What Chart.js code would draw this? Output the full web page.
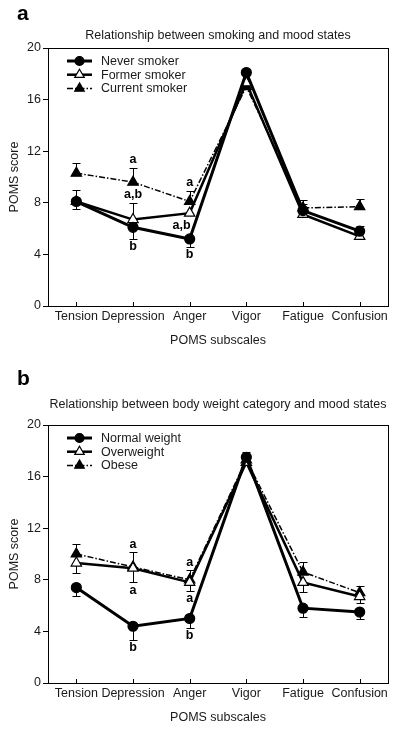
<!DOCTYPE html>
<html>
<head>
<meta charset="utf-8">
<script src="https://cdn.jsdelivr.net/npm/chart.js@4"></script>
<style>
body { margin: 0; background: #fff; }
.panel { position: absolute; left: 0; width: 400px; }
#panel-a { top: 0; }
#panel-b { top: 366px; }
</style>
</head>
<body>
<div class="panel" id="panel-a"><canvas id="grafico-a" width="400" height="366"></canvas></div>
<div class="panel" id="panel-b"><canvas id="grafico-b" width="400" height="367"></canvas></div>

<script>
// dados
const categories = ['Tension', 'Depression', 'Anger', 'Vigor', 'Fatigue', 'Confusion'];
const yTicks = [0, 4, 8, 12, 16, 20];

// painel a - tabagismo
const neverSmoker   = [8.1, 6.1, 5.2, 18.1, 7.4, 5.8];
const formerSmoker  = [8.1, 6.7, 7.2, 17.3, 7.1, 5.4];
const currentSmoker = [10.3, 9.6, 8.1, 17.0, 7.6, 7.7];
// fim da barra de erro (unilateral), null = sem barra
const neverSmokerErr   = [7.5, 5.2, 4.6, null, 7.9, 6.2];
const formerSmokerErr  = [9.0, 8.0, null, null, null, null];
const currentSmokerErr = [11.1, 10.7, 8.95, null, 8.2, 8.3];
// letras: [categoria, serie, texto, lado se sem barra]
const smokingLetters = [[1, 2, 'a'], [1, 1, 'a,b'], [1, 0, 'b'], [2, 2, 'a'], [2, 1, 'a,b', -1], [2, 0, 'b']];

// painel b - peso corporal
const normalWeight = [7.4, 4.4, 5.0, 17.5, 5.8, 5.5];
const overweight   = [9.3, 8.9, 7.8, 17.1, 7.8, 6.7];
const obese        = [10.0, 9.0, 8.0, 17.3, 8.6, 7.0];
const normalWeightErr = [6.75, 3.35, 4.3, 17.9, 5.15, 5.0];
const overweightErr   = [8.55, 7.8, 7.15, null, 7.05, 6.2];
const obeseErr        = [10.8, 10.15, 8.75, null, 9.4, 7.55];
const weightLetters = [[1, 2, 'a'], [1, 1, 'a'], [1, 0, 'b'], [2, 2, 'a'], [2, 1, 'a'], [2, 0, 'b']];

const FONT = '"Liberation Sans", Arial, Helvetica, sans-serif';
Chart.defaults.font.family = FONT;
Chart.defaults.color = '#1a1a1a';

function marker(ctx, style, r, cx, cy, fill) {
    ctx.beginPath();
    if (style === 'circle') {
        ctx.arc(cx, cy, r, 0, Math.PI * 2);
    } else {
        let rad = 0;
        ctx.moveTo(cx + Math.sin(rad) * r, cy - Math.cos(rad) * r);
        rad += Math.PI * 2 / 3;
        ctx.lineTo(cx + Math.sin(rad) * r, cy - Math.cos(rad) * r);
        rad += Math.PI * 2 / 3;
        ctx.lineTo(cx + Math.sin(rad) * r, cy - Math.cos(rad) * r);
        ctx.closePath();
    }
    ctx.fillStyle = fill;
    ctx.fill();
    ctx.lineWidth = 1.2;
    ctx.strokeStyle = '#000';
    ctx.stroke();
}

const decor = {
    id: 'decor',
    beforeDatasetsDraw(chart, args, opts) {
        const { ctx, scales: { x, y } } = chart;
        ctx.save();
        ctx.strokeStyle = '#000';
        ctx.lineWidth = 1;
        opts.errs.forEach((err, s) => {
            err.forEach((e, i) => {
                if (e == null) return;
                const px = Math.round(x.getPixelForValue(i)) + 0.5;
                const y0 = y.getPixelForValue(chart.data.datasets[s].data[i]);
                const y1 = Math.round(y.getPixelForValue(e)) + 0.5;
                ctx.beginPath();
                ctx.moveTo(px, y0); ctx.lineTo(px, y1);
                ctx.moveTo(px - 4, y1); ctx.lineTo(px + 4, y1);
                ctx.stroke();
            });
        });
        ctx.restore();
    },
    afterDraw(chart, args, opts) {
        const { ctx, chartArea: a, scales: { x, y } } = chart;
        ctx.save();
        // moldura
        ctx.strokeStyle = '#000';
        ctx.lineWidth = 1;
        ctx.strokeRect(Math.round(a.left) + 0.5, Math.round(a.top) + 0.5, Math.round(a.right - a.left), Math.round(a.bottom - a.top));
        // ticks internos do eixo x
        ctx.beginPath();
        categories.forEach((c, i) => {
            const px = Math.round(x.getPixelForValue(i)) + 0.5;
            ctx.moveTo(px, a.bottom); ctx.lineTo(px, a.bottom - 4);
        });
        ctx.stroke();

        // letra do painel e titulo
        ctx.fillStyle = '#000';
        ctx.textAlign = 'left';
        ctx.textBaseline = 'alphabetic';
        ctx.font = 'bold 21px ' + FONT;
        ctx.fillText(opts.panel, 17, opts.panelY);
        ctx.fillStyle = '#1a1a1a';
        ctx.font = '12.5px ' + FONT;
        ctx.textAlign = 'center';
        ctx.textBaseline = 'middle';
        const cx = (a.left + a.right) / 2;
        ctx.fillText(opts.title, cx, a.top - opts.titleGap);
        ctx.font = '12.5px ' + FONT;
        ctx.fillText('POMS subscales', cx, a.bottom + 35);
        ctx.save();
        ctx.translate(15, (a.top + a.bottom) / 2);
        ctx.rotate(-Math.PI / 2);
        ctx.fillText('POMS score', 0, 0);
        ctx.restore();

        // legenda
        chart.data.datasets.forEach((ds, k) => {
            const ly = a.top + 13 + 13.7 * k;
            ctx.save();
            ctx.strokeStyle = '#000';
            ctx.lineWidth = ds.borderWidth;
            ctx.setLineDash(ds.borderDash || []);
            ctx.beginPath();
            ctx.moveTo(a.left + 19, ly); ctx.lineTo(a.left + 44, ly);
            ctx.stroke();
            ctx.restore();
            marker(ctx, ds.pointStyle, ds.pointRadius - 0.5, a.left + 31.5, ly, ds.pointBackgroundColor);
            ctx.fillStyle = '#1a1a1a';
            ctx.font = '12.5px ' + FONT;
            ctx.textAlign = 'left';
            ctx.textBaseline = 'middle';
            ctx.fillText(ds.label, a.left + 53, ly + 0.5);
        });

        // letras de significancia
        ctx.fillStyle = '#000';
        ctx.font = 'bold 12.5px ' + FONT;
        ctx.textBaseline = 'middle';
        opts.letters.forEach(([i, s, txt, side]) => {
            const v = chart.data.datasets[s].data[i];
            const e = opts.errs[s][i];
            let px = x.getPixelForValue(i);
            let py;
            ctx.textAlign = 'center';
            if (e != null) {
                const ey = y.getPixelForValue(e);
                py = e > v ? ey - 8 : ey + 8;
            } else {
                py = y.getPixelForValue(v) - side * 12;
                ctx.textAlign = 'right';
                px += 1;
            }
            ctx.fillText(txt, px, py);
        });
        ctx.restore();
    }
};

function series(label, data, style, filled, width, dash) {
    return {
        label: label,
        data: data,
        borderColor: '#000',
        borderWidth: width,
        borderDash: dash,
        pointStyle: style,
        pointRadius: style === 'circle' ? 5 : 6,
        pointHoverRadius: style === 'circle' ? 5 : 6,
        pointBackgroundColor: filled ? '#000' : '#fff',
        pointBorderColor: '#000',
        pointBorderWidth: 1.2,
        tension: 0,
        fill: false
    };
}

function makeChart(id, datasets, padTop, xHeight, decorOpts) {
    return new Chart(document.getElementById(id).getContext('2d'), {
        type: 'line',
        data: { labels: categories, datasets: datasets },
        options: {
            responsive: false,
            animation: false,
            devicePixelRatio: 1,
            layout: { padding: { top: padTop, right: 12, left: 0, bottom: 0 } },
            plugins: {
                legend: { display: false },
                tooltip: { enabled: false },
                decor: decorOpts
            },
            scales: {
                x: {
                    type: 'category',
                    offset: true,
                    grid: { display: false, drawTicks: false, tickLength: 0 },
                    border: { display: false },
                    ticks: { font: { size: 12.5 }, padding: 3, maxRotation: 0, autoSkip: false },
                    afterFit: s => { s.height = xHeight; }
                },
                y: {
                    min: 0,
                    max: 20,
                    afterBuildTicks: s => { s.ticks = yTicks.map(v => ({ value: v })); },
                    grid: { drawOnChartArea: false, tickLength: 5, tickColor: '#000' },
                    border: { color: '#000' },
                    ticks: { font: { size: 12.5 }, padding: 2 },
                    afterFit: s => { s.width = 48; }
                }
            }
        },
        plugins: [decor]
    });
}

makeChart('grafico-a', [
    series('Never smoker', neverSmoker, 'circle', true, 3, []),
    series('Former smoker', formerSmoker, 'triangle', false, 2.5, []),
    series('Current smoker', currentSmoker, 'triangle', true, 1.5, [6, 2, 1.5, 2])
], 48, 60, {
    panel: 'a', panelY: 20, title: 'Relationship between smoking and mood states', titleGap: 12,
    errs: [neverSmokerErr, formerSmokerErr, currentSmokerErr], letters: smokingLetters
});

makeChart('grafico-b', [
    series('Normal weight', normalWeight, 'circle', true, 3, []),
    series('Overweight', overweight, 'triangle', false, 2.5, []),
    series('Obese', obese, 'triangle', true, 1.5, [6, 2, 1.5, 2])
], 59, 50, {
    panel: 'b', panelY: 19, title: 'Relationship between body weight category and mood states', titleGap: 20,
    errs: [normalWeightErr, overweightErr, obeseErr], letters: weightLetters
});
</script>
</body>
</html>
